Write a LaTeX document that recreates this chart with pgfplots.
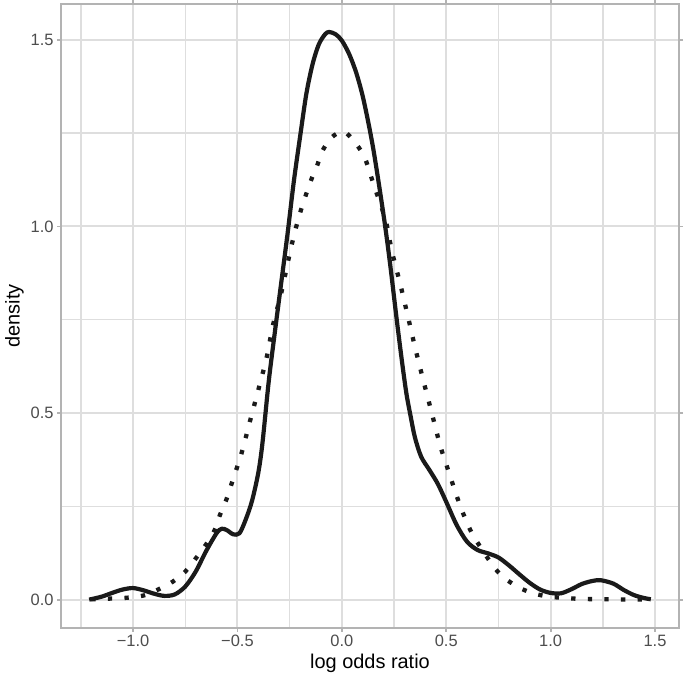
\documentclass[border=0pt]{standalone}
\usepackage{fontspec}
\setmainfont{Liberation Sans}
\usepackage{pgfplots}
\usepackage{pgfplotstable}
\pgfplotsset{compat=1.18}
\definecolor{gridgrey}{HTML}{DEDEDE}
\definecolor{bordergrey}{HTML}{B3B3B3}
\definecolor{ticktext}{HTML}{4D4D4D}
\definecolor{curve}{HTML}{1A1A1A}

% solid density curve
\pgfplotstableread{
x y
-1.21 0.000
-1.15 0.008
-1.10 0.018
-1.05 0.027
-1.00 0.031
-0.95 0.025
-0.90 0.016
-0.85 0.010
-0.80 0.014
-0.75 0.035
-0.70 0.075
-0.65 0.130
-0.60 0.178
-0.575 0.190
-0.55 0.186
-0.52 0.175
-0.49 0.178
-0.46 0.215
-0.43 0.265
-0.40 0.340
-0.38 0.420
-0.35 0.585
-0.32 0.720
-0.29 0.850
-0.26 0.980
-0.23 1.120
-0.20 1.240
-0.17 1.355
-0.14 1.435
-0.11 1.488
-0.08 1.515
-0.061 1.521
-0.03 1.515
0.00 1.498
0.035 1.462
0.07 1.410
0.105 1.337
0.15 1.210
0.20 1.030
0.23 0.905
0.263 0.750
0.29 0.630
0.31 0.550
0.33 0.490
0.35 0.435
0.38 0.383
0.42 0.347
0.46 0.310
0.50 0.262
0.55 0.200
0.60 0.155
0.65 0.133
0.70 0.124
0.75 0.113
0.80 0.092
0.85 0.068
0.90 0.045
0.95 0.027
1.00 0.018
1.05 0.017
1.10 0.028
1.15 0.042
1.20 0.050
1.24 0.052
1.30 0.043
1.35 0.026
1.40 0.012
1.45 0.004
1.48 0.001
}\solidtab

% dotted density curve
\pgfplotstableread{
x y
-1.20 0.001
-1.10 0.003
-1.03 0.005
-0.95 0.011
-0.88 0.027
-0.81 0.048
-0.75 0.075
-0.70 0.110
-0.65 0.148
-0.61 0.185
-0.585 0.225
-0.555 0.265
-0.53 0.307
-0.48 0.393
-0.44 0.478
-0.40 0.562
-0.36 0.649
-0.33 0.735
-0.29 0.822
-0.24 0.951
-0.20 1.036
-0.15 1.120
-0.12 1.160
-0.095 1.200
-0.05 1.238
0.01 1.254
0.07 1.220
0.11 1.184
0.135 1.142
0.16 1.100
0.21 1.016
0.24 0.933
0.28 0.845
0.316 0.760
0.352 0.673
0.39 0.588
0.43 0.502
0.47 0.415
0.494 0.373
0.518 0.332
0.543 0.290
0.569 0.248
0.60 0.206
0.633 0.168
0.72 0.094
0.77 0.062
0.84 0.035
0.91 0.018
0.99 0.008
1.06 0.005
1.14 0.002
1.25 0.001
1.48 0.000
}\dottedtab

\begin{document}
\begin{tikzpicture}[x=1bp,y=1bp]
\useasboundingbox (0,0) rectangle (685,679);
\begin{axis}[
  at={(61bp,51bp)}, anchor=south west,
  width=618bp, height=624bp, scale only axis,
  xmin=-1.345, xmax=1.615, ymin=-0.076, ymax=1.596,
  xtick={-1,-0.5,0,0.5,1,1.5},
  xticklabels={−1.0,−0.5,0.0,0.5,1.0,1.5},
  minor xtick={-1.25,-0.75,-0.25,0.25,0.75,1.25},
  ytick={0,0.5,1,1.5},
  yticklabels={0.0,0.5,1.0,1.5},
  minor ytick={0.25,0.75,1.25},
  grid=both,
  major grid style={gridgrey, line width=1.9bp},
  minor grid style={gridgrey, line width=1.4bp},
  axis line style={bordergrey, line width=2bp},
  tick style={bordergrey, line width=1.8bp},
  tick align=outside, major tick length=4bp, minor tick length=0bp,
  xticklabel style={font=\fontsize{16.5}{19}\selectfont, text=ticktext},
  yticklabel style={font=\fontsize{16.5}{19}\selectfont, text=ticktext},
  xlabel={log odds ratio},
  ylabel={density},
  xlabel style={font=\fontsize{20}{24}\selectfont},
  ylabel style={font=\fontsize{20}{24}\selectfont},
]
\addplot[curve, line width=4.2bp, line join=round, smooth, tension=0.5] table[x=x, y=y] {\solidtab};
\addplot[curve, line width=4.3bp, dash pattern=on 4.3bp off 12.3bp, smooth, tension=0.5] table[x=x, y=y] {\dottedtab};
\end{axis}
\end{tikzpicture}
\end{document}
